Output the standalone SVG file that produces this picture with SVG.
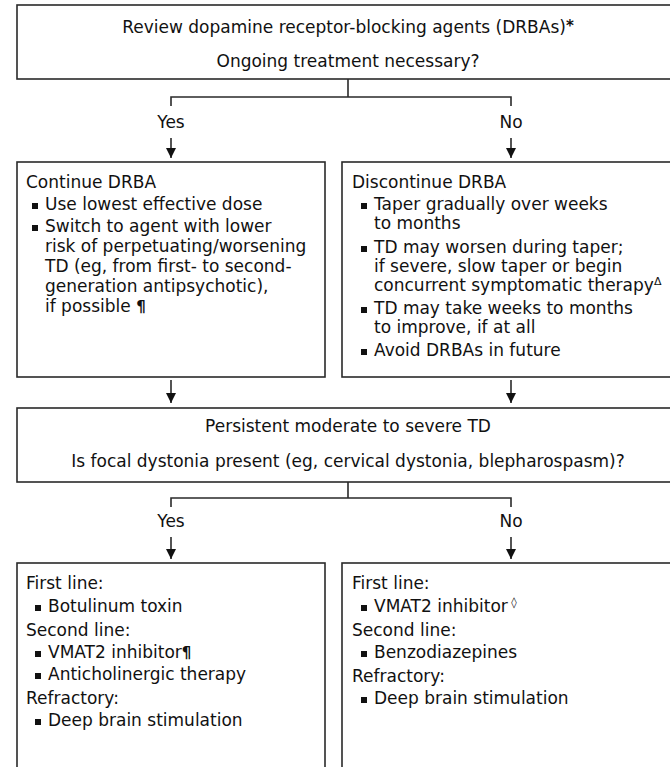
<svg xmlns="http://www.w3.org/2000/svg" width="670" height="767" viewBox="0 0 670 767">
<defs>
<style>
text{font-family:"DejaVu Sans","Verdana",sans-serif;font-size:17px;fill:#111}
.c{text-anchor:middle}
.box{fill:#fff;stroke:#2a2a2a;stroke-width:1.6}
.ln{fill:none;stroke:#2a2a2a;stroke-width:1.6}
.b{fill:#111}
.sup{font-size:11px}
.pil{font-weight:bold;font-size:15px}
</style>
<marker id="ah" viewBox="0 0 10 10" refX="10" refY="5" markerWidth="10" markerHeight="10" markerUnits="userSpaceOnUse" orient="auto">
<path d="M0,0 L10,5 L0,10 z" fill="#111"/>
</marker>
</defs>
<rect width="670" height="767" fill="#fff"/>

<g id="connectors">
<path class="ln" d="M348,79 V97 M171,106 V97 H511 V106"/>
<text class="c" x="171" y="128">Yes</text>
<text class="c" x="511" y="128">No</text>
<path class="ln" d="M171,138 V158" marker-end="url(#ah)"/>
<path class="ln" d="M511,138 V158" marker-end="url(#ah)"/>
<path class="ln" d="M171,380 V403" marker-end="url(#ah)"/>
<path class="ln" d="M511,380 V403" marker-end="url(#ah)"/>
<path class="ln" d="M348,482 V498 M171,507 V498 H511 V507"/>
<text class="c" x="171" y="527">Yes</text>
<text class="c" x="511" y="527">No</text>
<path class="ln" d="M171,537 V559" marker-end="url(#ah)"/>
<path class="ln" d="M511,537 V559" marker-end="url(#ah)"/>
</g>

<g id="review">
<rect class="box" x="17" y="5" width="663" height="74"/>
<text class="c" x="348" y="33">Review dopamine receptor-blocking agents (DRBAs)<tspan font-weight="bold" font-size="15" dy="-2">*</tspan></text>
<text class="c" x="348" y="67">Ongoing treatment necessary?</text>
</g>

<g id="continue">
<rect class="box" x="17" y="162" width="308" height="215"/>
<text x="26" y="188">Continue DRBA</text>
<rect class="b" x="32" y="203" width="6" height="6"/>
<text x="45" y="210">Use lowest effective dose</text>
<rect class="b" x="32" y="225" width="6" height="6"/>
<text x="45" y="232">Switch to agent with lower</text>
<text x="45" y="252">risk of perpetuating/worsening</text>
<text x="45" y="272">TD (eg, from first- to second-</text>
<text x="45" y="292">generation antipsychotic),</text>
<text x="45" y="312">if possible <tspan class="pil">¶</tspan></text>
</g>

<g id="discontinue">
<rect class="box" x="342" y="162" width="338" height="215"/>
<text x="352" y="188">Discontinue DRBA</text>
<rect class="b" x="361" y="203" width="6" height="6"/>
<text x="374" y="210">Taper gradually over weeks</text>
<text x="374" y="229">to months</text>
<rect class="b" x="361" y="246" width="6" height="6"/>
<text x="374" y="253">TD may worsen during taper;</text>
<text x="374" y="272">if severe, slow taper or begin</text>
<text x="374" y="291">concurrent symptomatic therapy<tspan class="sup" dy="-6">Δ</tspan></text>
<rect class="b" x="361" y="307" width="6" height="6"/>
<text x="374" y="314">TD may take weeks to months</text>
<text x="374" y="333">to improve, if at all</text>
<rect class="b" x="361" y="349" width="6" height="6"/>
<text x="374" y="356">Avoid DRBAs in future</text>
</g>

<g id="persistent">
<rect class="box" x="17" y="408" width="663" height="74"/>
<text class="c" x="348" y="432">Persistent moderate to severe TD</text>
<text class="c" x="348" y="467">Is focal dystonia present (eg, cervical dystonia, blepharospasm)?</text>
</g>

<g id="focal-yes">
<rect class="box" x="17" y="563" width="308" height="220"/>
<text x="26" y="589">First line:</text>
<rect class="b" x="35" y="605" width="6" height="6"/>
<text x="48" y="612">Botulinum toxin</text>
<text x="26" y="636">Second line:</text>
<rect class="b" x="35" y="651" width="6" height="6"/>
<text x="48" y="658">VMAT2 inhibitor<tspan class="pil">¶</tspan></text>
<rect class="b" x="35" y="673" width="6" height="6"/>
<text x="48" y="680">Anticholinergic therapy</text>
<text x="26" y="704">Refractory:</text>
<rect class="b" x="35" y="719" width="6" height="6"/>
<text x="48" y="726">Deep brain stimulation</text>
</g>

<g id="focal-no">
<rect class="box" x="342" y="563" width="338" height="220"/>
<text x="352" y="589">First line:</text>
<rect class="b" x="361" y="605" width="6" height="6"/>
<text x="374" y="612">VMAT2 inhibitor<tspan class="sup" dy="-6"> ◊</tspan></text>
<text x="352" y="636">Second line:</text>
<rect class="b" x="361" y="651" width="6" height="6"/>
<text x="374" y="658">Benzodiazepines</text>
<text x="352" y="682">Refractory:</text>
<rect class="b" x="361" y="697" width="6" height="6"/>
<text x="374" y="704">Deep brain stimulation</text>
</g>
</svg>
